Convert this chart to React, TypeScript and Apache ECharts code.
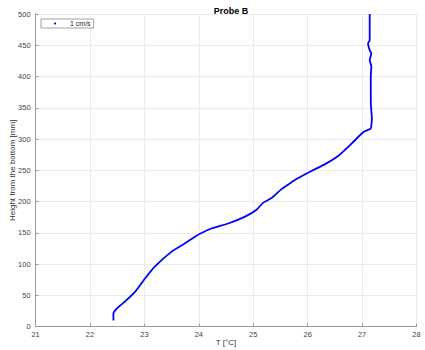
import React, { useEffect, useRef } from "react";
import * as echarts from "echarts";

const heights = [10, 21, 29, 40, 56, 77, 96, 120, 133, 144, 149, 157, 165, 176, 187, 198, 206, 220, 232, 237, 249, 260, 273, 293, 311, 317, 322, 333, 345, 360, 378, 400, 416, 426, 437, 442, 453, 458, 480, 500];
const temps = [22.43, 22.43, 22.49, 22.64, 22.83, 23.01, 23.19, 23.5, 23.74, 23.93, 24.03, 24.23, 24.54, 24.85, 25.06, 25.18, 25.34, 25.52, 25.72, 25.81, 26.07, 26.32, 26.56, 26.81, 27.02, 27.16, 27.17, 27.18, 27.17, 27.16, 27.16, 27.16, 27.17, 27.14, 27.17, 27.14, 27.11, 27.14, 27.14, 27.14];
const seriesName = "1 cm/s";
const titleText = "Probe B";
const xName = "T [°C]";
const yName = "Height from the bottom [mm]";

export default function App() {
  const ref = useRef<HTMLDivElement>(null);
  useEffect(() => {
    if (!ref.current) return;
    const chart = echarts.init(ref.current, null, { renderer: "svg" });
    const font = "Liberation Sans, Arial, Helvetica, sans-serif";
    const data = heights.map((h, i) => [temps[i], h]);
    chart.setOption({
      animation: false,
      textStyle: { fontFamily: font },
      title: {
        text: titleText,
        left: 226,
        textAlign: "center",
        top: 1,
        textStyle: { fontSize: 9, fontWeight: "bold", color: "#000", fontFamily: font },
      },
      legend: {
        data: [{ name: seriesName, icon: "circle" }],
        left: 41,
        top: 19,
        itemWidth: 2,
        itemHeight: 2,
        itemGap: 10,
        padding: [1, 3, 1, 13],
        backgroundColor: "#fff",
        borderColor: "#a0a0a0",
        borderWidth: 1,
        textStyle: { fontSize: 7, color: "#222", fontFamily: font, padding: [0, 0, 0, 9] },
      },
      grid: { left: 35.6, right: 8.5, top: 14, bottom: 23.3, containLabel: false, outerBoundsMode: "none" },
      xAxis: {
        type: "value",
        min: 21,
        max: 28,
        interval: 1,
        name: xName,
        nameLocation: "middle",
        nameGap: 12,
        nameMoveOverlap: false,
        nameTextStyle: { fontSize: 8, color: "#333", fontFamily: font },
        axisLine: { show: true, lineStyle: { color: "#999", width: 1 } },
        axisTick: { show: true, inside: true, length: 3, lineStyle: { color: "#999" } },
        axisLabel: { fontSize: 7.5, color: "#444", margin: 4, fontFamily: font },
        splitLine: { show: true, lineStyle: { color: "#ebebeb", width: 1 } },
      },
      yAxis: {
        type: "value",
        min: 0,
        max: 500,
        interval: 50,
        name: yName,
        nameLocation: "middle",
        nameRotate: 90,
        nameGap: 19,
        nameMoveOverlap: false,
        nameTextStyle: { fontSize: 8, color: "#333", fontFamily: font },
        axisLine: { show: true, lineStyle: { color: "#999", width: 1 } },
        axisTick: { show: true, inside: true, length: 3, lineStyle: { color: "#999" } },
        axisLabel: { fontSize: 7.5, color: "#444", margin: 5, fontFamily: font },
        splitLine: { show: true, lineStyle: { color: "#ebebeb", width: 1 } },
      },
      series: [
        {
          name: seriesName,
          type: "line",
          data,
          showSymbol: false,
          symbol: "circle",
          smooth: 0.2,
          itemStyle: { color: "#0000ff" },
          lineStyle: { color: "#0000ff", width: 1.8 },
        },
      ],
    });
    return () => chart.dispose();
  }, []);
  return (
    <div
      ref={ref}
      style={{ position: "fixed", left: 0, top: 0, width: 425, height: 350, background: "#fff" }}
    />
  );
}
